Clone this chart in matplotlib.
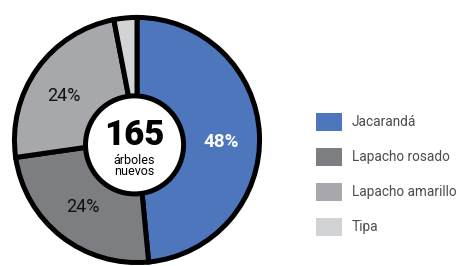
import matplotlib.pyplot as plt
from matplotlib.patches import Circle, Rectangle

# data
species = ['Jacarandá', 'Lapacho rosado', 'Lapacho amarillo', 'Tipa']
shares = [48, 24, 24, 3]
labels = ['48%', '24%', '24%']
colors = ['#4e76bd', '#7d7e82', '#a7a8ab', '#d2d3d5']
total_trees = 165

W, H = 463, 266
fig = plt.figure(figsize=(W / 100, H / 100), dpi=100)
fig.patch.set_facecolor('white')

# pie axes, pixel box from the reference
cx, cy, r = 137, 140, 125
ax = fig.add_axes([(cx - r) / W, (H - cy - r) / H, 2 * r / W, 2 * r / H])
ax.pie(shares, colors=colors, startangle=90, counterclock=False,
       wedgeprops=dict(edgecolor='black', linewidth=3.6))
ax.set_aspect('equal')
ax.set_xlim(-1.02, 1.02)
ax.set_ylim(-1.02, 1.02)

# hole in the middle
hx, hy = -0.02, -0.04
ax.add_patch(Circle((hx, hy), 0.40, facecolor='white', edgecolor='black',
                    linewidth=3.6, zorder=5))
ax.text(hx, hy + 0.08, str(total_trees), ha='center', va='center', fontsize=25,
        fontweight='black', family='Roboto', zorder=6)
ax.text(hx, hy - 0.17, 'árboles\nnuevos', ha='center', va='center', fontsize=9,
        family='Roboto', linespacing=0.8, zorder=6)

# percent labels
ax.text(0.69, -0.02, labels[0], ha='center', va='center', fontsize=13.5,
        fontweight='bold', color='white', family='Roboto')
ax.text(-0.44, -0.55, labels[1], ha='center', va='center', fontsize=13,
        family='Roboto', color='#111111')
ax.text(-0.60, 0.36, labels[2], ha='center', va='center', fontsize=13,
        family='Roboto', color='#111111')

# legend drawn by hand
for i, (name, col) in enumerate(zip(species, colors)):
    yc = 122 + 35 * i
    fig.patches.append(Rectangle((316 / W, (H - yc - 9) / H), 26 / W, 18 / H,
                                 facecolor=col, edgecolor='none',
                                 transform=fig.transFigure))
    fig.text(352 / W, (H - yc) / H, name, ha='left', va='center',
             fontsize=9.8, color='#4d4d4d', family='Roboto')

fig.savefig('out.png', dpi=100)
